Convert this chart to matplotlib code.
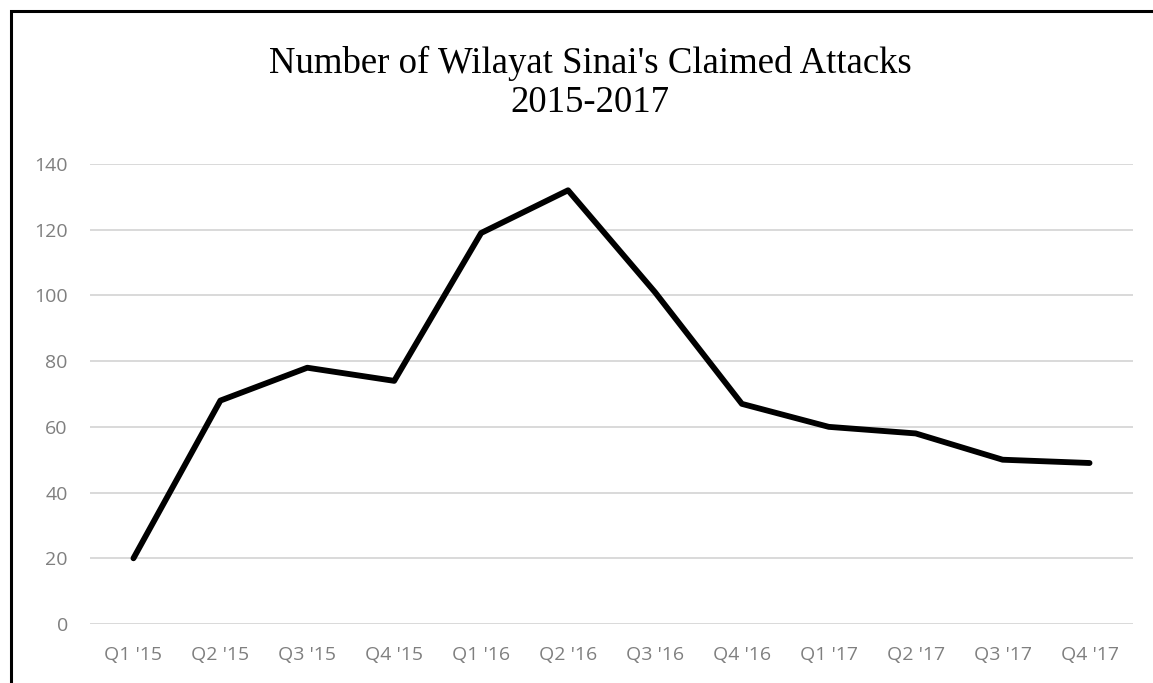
import matplotlib.pyplot as plt
from matplotlib.patches import Rectangle

# quarterly counts of claimed attacks
quarters = ["Q1 '15", "Q2 '15", "Q3 '15", "Q4 '15", "Q1 '16", "Q2 '16",
            "Q3 '16", "Q4 '16", "Q1 '17", "Q2 '17", "Q3 '17", "Q4 '17"]
attacks = [20, 68, 78, 74, 119, 132, 101, 67, 60, 58, 50, 49]
y_ticks = [0, 20, 40, 60, 80, 100, 120, 140]

W, H = 1153, 683
fig = plt.figure(figsize=(W / 100, H / 100), dpi=100)
ax = fig.add_axes([90 / W, 1 - 624 / H, (1133 - 90) / W, (624 - 164) / H])

x = list(range(len(quarters)))
ax.plot(x, attacks, color='black', linewidth=4.2,
        solid_joinstyle='round', solid_capstyle='round', zorder=3)

ax.set_xlim(-0.5, len(quarters) - 0.5)
ax.set_ylim(0, 140)
ax.set_yticks(y_ticks)
ax.set_xticks(x)
ax.set_xticklabels(quarters)
ax.grid(axis='y', color='#d9d9d9', linewidth=1.4)
ax.set_axisbelow(True)
for s in ax.spines.values():
    s.set_visible(False)
ax.tick_params(axis='both', length=0, labelsize=14, labelcolor='#7f7f7f')
ax.tick_params(axis='y', pad=16)
ax.tick_params(axis='x', pad=16)
for lbl in ax.get_xticklabels() + ax.get_yticklabels():
    lbl.set_fontfamily('Open Sans')

fig.text(590 / W, 1 - 83 / H, "Number of Wilayat Sinai's Claimed Attacks\n2015-2017",
         ha='center', va='center', fontsize=26.5, family='Liberation Serif',
         linespacing=1.2)

# outer frame (cropped on the right and bottom)
fig.patches.append(Rectangle((11 / W, -0.1), 1.2, 1 - 11 / H + 0.1,
                             transform=fig.transFigure, fill=False,
                             edgecolor='black', linewidth=2.2))

fig.savefig('out.png', dpi=100)
